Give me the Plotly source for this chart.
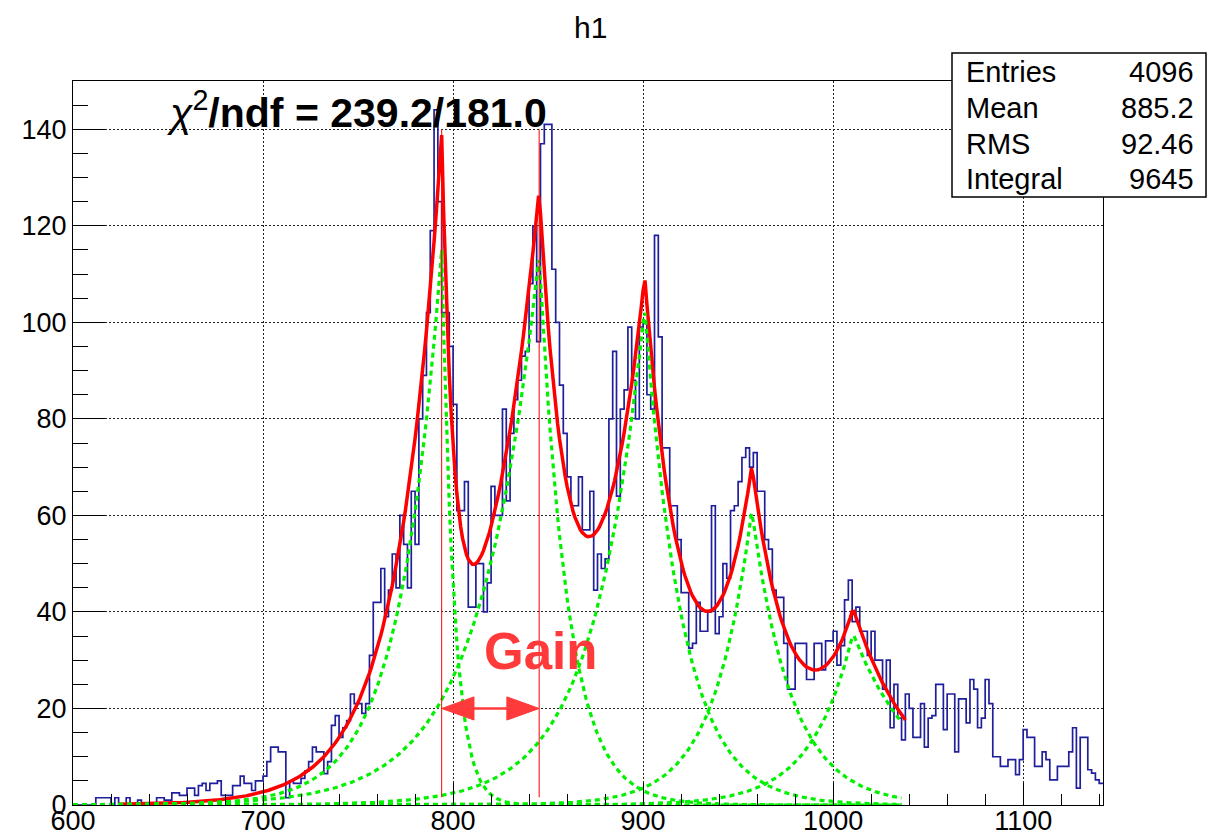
import numpy as np
import plotly.graph_objects as go

# ---------------- histogram h1 (2-unit bins from 600) ----------------
bin_start = 600
bin_width = 2
counts = [
    0, 0, 0, 0, 0, 0, 1.5, 1.5, 1.5, 1.5,            # 600-618
    0, 1.5, 0, 0, 1.5, 0, 0, 1, 0, 0,                # 620-638
    0, 0, 1.5, 1.5, 1, 1, 2.5, 2.5, 2, 2,            # 640-658
    3.5, 3.5, 2, 4, 4.5, 3, 4.5, 4.5, 5, 2,          # 660-678
    2, 2, 4, 4, 6, 4.5, 4.5, 3, 5, 5,                # 680-698
    6, 9, 12, 12, 11, 11, 1.5, 5, 4.5, 4.5,          # 700-718
    5.5, 7, 9, 12, 11, 11, 6.5, 9, 16.5, 18.5,       # 720-738
    14, 16, 17.5, 23, 21, 21, 19, 21, 31, 42,        # 740-758
    42, 49, 39, 44.5, 52, 45, 60, 54, 45, 65,        # 760-778
    54, 80, 89, 102, 119, 144, 125, 102, 102, 95,    # 780-798
    83, 61, 61, 67, 41, 41, 50, 50, 40, 46,          # 800-818
    66, 60, 60, 82, 63, 77, 84, 88, 93, 94,          # 820-838
    108, 120, 96, 137, 141, 141, 111, 100, 87, 77,   # 840-858
    68, 62, 62, 68, 57, 57, 65, 44.5, 52, 49,        # 860-878
    51, 80, 94, 64, 82, 86, 99, 88, 80, 99,          # 880-898
    100, 85, 82, 118, 97, 74, 74, 62, 62, 55,        # 900-918
    44, 44, 32.5, 33.5, 42, 36, 36, 40, 62, 35.5,    # 920-938
    39, 50, 47, 61, 62, 67, 72, 74, 70, 73,          # 940-958
    65, 65, 55, 53, 44.5, 43, 43, 33.5, 24, 24,      # 960-978
    33.5, 33.5, 33.5, 26, 26, 33.5, 33.5, 28, 34, 34,  # 980-998
    36, 29, 33, 42.5, 46.6, 38, 41, 36, 36, 31,      # 1000-1018
    36, 30, 30, 24, 30, 16, 25, 18, 13.5, 23,        # 1020-1038
    20, 14, 14, 21, 12, 18, 18.5, 25, 25, 15.6,      # 1040-1058
    23, 23, 11, 22, 22, 17, 26, 24, 16, 18,          # 1060-1078
    26, 21, 10, 10, 8, 8, 9.4, 9.4, 6.3, 9.4,        # 1080-1098
    15.6, 14, 14, 8, 8, 11, 9.4, 5.2, 5.2, 8,        # 1100-1118
    8, 8, 11, 16, 3.5, 14, 14, 7.3, 6.6, 5.2,        # 1120-1138
    4.5,                                             # 1140
]

# ---------------- multi-peak fit: five asymmetric exponential peaks ----------------
peak_mean = [794.0, 845.3, 900.8, 957.2, 1010.5]
peak_amp = [115, 114, 103, 61, 35.5]
tau_left = [22, 31, 27, 20, 22]
tau_right = [6.5, 15, 20, 21, 35]
fit_lo, fit_hi = 624, 1038
comp_lo, comp_hi = 600, 1036

chi2, ndf = 239.2, 181.0

stat_names = ["Entries", "Mean", "RMS", "Integral"]
stat_values = ["4096", "885.2", "92.46", "9645"]

x_range = [600, 1142]
y_range = [0, 150]

# ---------------- page geometry ----------------
W, H = 1207, 838
ML, MR, MT, MB = 73, 104, 81, 33
PW, PH = W - ML - MR, H - MT - MB


def px_to_paper(px, py):
    return (px - ML) / PW, (H - MB - py) / PH


def peak(k, x):
    d = x - peak_mean[k]
    tau = np.where(d < 0, tau_left[k], tau_right[k])
    return peak_amp[k] * np.exp(-np.abs(d) / tau)


fig = go.Figure()

# histogram outline
edges = bin_start + bin_width * np.arange(len(counts) + 1)
fig.add_trace(go.Scatter(
    x=edges, y=list(counts) + [counts[-1]],
    mode="lines", line=dict(color="#1f1f9c", width=1.7, shape="hv"),
    hoverinfo="skip", showlegend=False,
))

# total fit function
xf = np.arange(fit_lo, fit_hi + 0.5, 1.0)
total = sum(peak(k, xf) for k in range(len(peak_mean)))
fig.add_trace(go.Scatter(
    x=xf, y=total, mode="lines",
    line=dict(color="#ff0000", width=3.5),
    hoverinfo="skip", showlegend=False,
))

# individual peak components
xc = np.arange(comp_lo, comp_hi + 0.5, 1.0)
for k in range(len(peak_mean)):
    fig.add_trace(go.Scatter(
        x=xc, y=peak(k, xc), mode="lines",
        line=dict(color="#00f000", width=3.2, dash="5px,4px"),
        hoverinfo="skip", showlegend=False,
    ))

# markers at the first two peak positions and the gain arrow between them
m0, m1 = peak_mean[0], peak_mean[1]
shapes = []
for m in (m0, m1):
    shapes.append(dict(type="line", xref="x", yref="y", x0=m, x1=m, y0=1.6, y1=140,
                       line=dict(color="#ff0000", width=1)))
arrow_y = 20
head_len, head_half = 17, 2.4
arrow_col = "#ff3a3a"
shapes.append(dict(type="line", xref="x", yref="y", x0=m0 + head_len, x1=m1 - head_len,
                   y0=arrow_y, y1=arrow_y, line=dict(color=arrow_col, width=2.5)))
shapes.append(dict(type="path", xref="x", yref="y",
                   path=f"M {m0},{arrow_y} L {m0 + head_len},{arrow_y + head_half} "
                        f"L {m0 + head_len},{arrow_y - head_half} Z",
                   fillcolor=arrow_col, line=dict(color=arrow_col, width=1)))
shapes.append(dict(type="path", xref="x", yref="y",
                   path=f"M {m1},{arrow_y} L {m1 - head_len},{arrow_y + head_half} "
                        f"L {m1 - head_len},{arrow_y - head_half} Z",
                   fillcolor=arrow_col, line=dict(color=arrow_col, width=1)))

# statistics box
bx0, by0 = px_to_paper(952, 197)
bx1, by1 = px_to_paper(1206, 53)
shapes.append(dict(type="rect", xref="paper", yref="paper", x0=bx0, x1=bx1, y0=by0, y1=by1,
                   fillcolor="white", line=dict(color="black", width=1.5), layer="above"))

annotations = []
font_face = "Liberation Sans, Arial, Helvetica, sans-serif"
row_py = [72, 108, 144, 179]
for name, val, py in zip(stat_names, stat_values, row_py):
    lx, ly = px_to_paper(964, py)
    rx, _ = px_to_paper(1196, py)
    annotations.append(dict(xref="paper", yref="paper", x=lx, y=ly, text=name, showarrow=False,
                            xanchor="left", yanchor="middle",
                            font=dict(family=font_face, size=29, color="black")))
    annotations.append(dict(xref="paper", yref="paper", x=rx, y=ly, text=val, showarrow=False,
                            xanchor="right", yanchor="middle",
                            font=dict(family=font_face, size=29, color="black")))

# title
tx, ty = px_to_paper(590, 28)
annotations.append(dict(xref="paper", yref="paper", x=tx, y=ty, text="h1", showarrow=False,
                        xanchor="center", yanchor="middle",
                        font=dict(family=font_face, size=30, color="black")))

# chi-square label
cx, cy = px_to_paper(165, 110)
annotations.append(dict(xref="paper", yref="paper", x=cx, y=cy,
                        text=f"<i>χ</i><sup>2</sup><b>/ndf = {chi2:.1f}/{ndf:.1f}</b>",
                        showarrow=False, xanchor="left", yanchor="middle",
                        font=dict(family=font_face, size=41, color="black")))

# gain label above the arrow
gy = 31.8
annotations.append(dict(xref="x", yref="y", x=m1 + 0.8, y=gy, text="<b>Gain</b>",
                        showarrow=False, xanchor="center", yanchor="middle",
                        font=dict(family=font_face, size=51, color=arrow_col)))

axis_common = dict(
    showline=True, linecolor="black", linewidth=1, mirror=True,
    ticks="inside", tickcolor="black", tickwidth=1,
    showgrid=True, gridcolor="#222222", gridwidth=1, griddash="1.5px,2.5px",
    zeroline=False, tickfont=dict(family=font_face, size=27, color="black"),
    automargin=False, fixedrange=True,
)

fig.update_layout(
    width=W, height=H,
    margin=dict(l=ML, r=MR, t=MT, b=MB),
    paper_bgcolor="white", plot_bgcolor="white",
    shapes=shapes, annotations=annotations,
    xaxis=dict(range=x_range, tick0=0, dtick=100, ticklen=22, ticklabelstandoff=-8,
               minor=dict(dtick=20, tick0=0, ticklen=11, ticks="inside", tickcolor="black",
                          showgrid=False),
               **axis_common),
    yaxis=dict(range=y_range, tick0=0, dtick=20, ticklen=32,
               minor=dict(dtick=5, tick0=0, ticklen=15, ticks="inside", tickcolor="black",
                          showgrid=False),
               **axis_common),
)

fig.write_html("out.html")
